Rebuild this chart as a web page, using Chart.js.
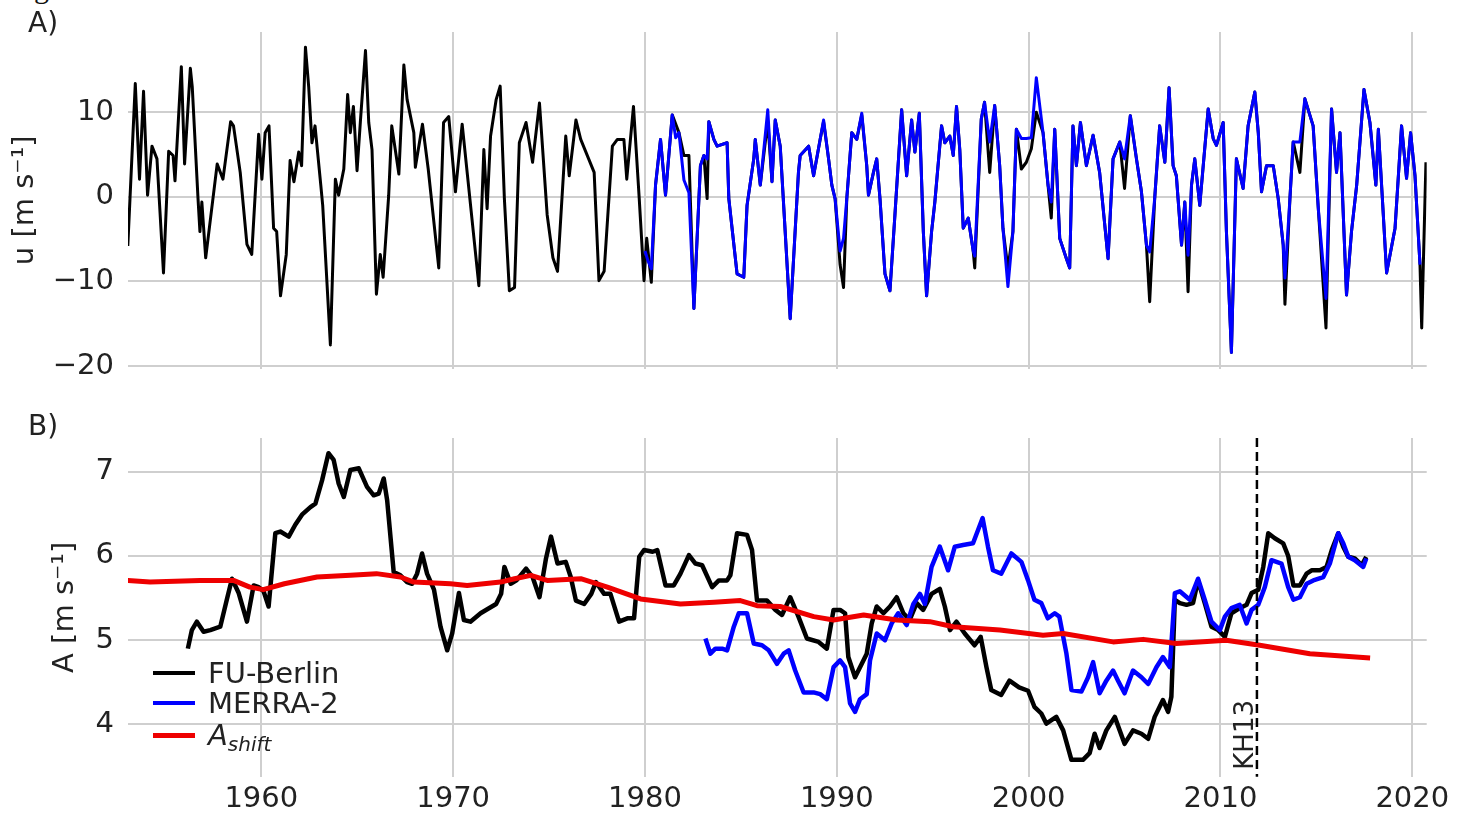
<!DOCTYPE html>
<html>
<head>
<meta charset="utf-8">
<script src="https://cdn.jsdelivr.net/npm/chart.js@4.4.1/dist/chart.umd.min.js"></script>
<style>
  body { margin: 0; background: #fff; }
  #wrap { position: relative; width: 1465px; height: 816px; overflow: hidden; background: #fff; font-family: 'DejaVu Sans', sans-serif; color: #222; }
  canvas { position: absolute; left: 0; }
  .lbl { position: absolute; font-size: 28px; line-height: 28px; white-space: nowrap; }
  .leg { position: absolute; font-size: 29px; line-height: 30px; white-space: nowrap; }
  .legline { position: absolute; left: 153px; width: 42px; }
  .cap { position: absolute; left: 14px; top: -27px; font-family: 'Liberation Serif', serif; font-size: 30px; line-height: 30px; color: #111; white-space: nowrap; }
</style>
</head>
<body>
<div id="wrap">
  <div class="cap">significance of the observed trends.</div>
  <canvas id="chartA" width="1465" height="400" style="top:0"></canvas>
  <canvas id="chartB" width="1465" height="416" style="top:400px"></canvas>
  <div class="lbl" style="left:28px; top:9px">A)</div>
  <div class="lbl" style="left:28px; top:412px">B)</div>
  <div id="legend"></div>
</div>
<script>
// x range and ticks (years)
var xMin = 1953.05, xMax = 2020.75;
var xTicks = [1960, 1970, 1980, 1990, 2000, 2010, 2020];
var yTicksA = [-20, -10, 0, 10];
var yTicksB = [4, 5, 6, 7];
var kh13Year = 2011.9;
var kh13Label = "KH13";

// panel A: zonal wind, FU-Berlin
var fuYearsA = [1953.04,1953.43,1953.65,1953.86,1954.07,1954.3,1954.56,1954.9,1955.17,1955.4,1955.5,1955.83,1956.0,1956.3,1956.4,1956.7,1956.8,1956.9,1957.1,1957.7,1958.0,1958.4,1958.55,1958.9,1959.25,1959.5,1959.86,1960.03,1960.2,1960.4,1960.64,1960.8,1961.0,1961.3,1961.5,1961.7,1961.95,1962.1,1962.3,1962.47,1962.64,1962.8,1963.1,1963.2,1963.6,1963.86,1964.03,1964.3,1964.5,1964.64,1964.8,1964.99,1965.17,1965.43,1965.6,1965.77,1966.0,1966.2,1966.35,1966.64,1966.8,1967.17,1967.43,1967.6,1967.95,1968.03,1968.4,1968.7,1969.25,1969.5,1969.77,1970.12,1970.47,1970.73,1971.34,1971.6,1971.77,1971.95,1972.24,1972.45,1972.67,1972.93,1973.2,1973.45,1973.8,1974.14,1974.5,1974.9,1975.2,1975.44,1975.87,1976.05,1976.4,1976.65,1977.35,1977.6,1977.87,1978.3,1978.56,1978.9,1979.05,1979.4,1979.7,1979.95,1980.09,1980.33,1980.55,1980.81,1981.07,1981.42,1981.77,1982.03,1982.29,1982.55,1982.89,1983.07,1983.24,1983.33,1983.59,1983.76,1984.28,1984.37,1984.8,1985.15,1985.32,1985.67,1985.75,1986.01,1986.4,1986.62,1986.79,1987.05,1987.14,1987.57,1988.0,1988.09,1988.53,1988.79,1989.13,1989.31,1989.57,1989.74,1989.91,1990.17,1990.35,1990.52,1990.78,1991.04,1991.3,1991.56,1991.65,1991.91,1992.08,1992.25,1992.51,1992.77,1993.03,1993.38,1993.64,1993.9,1994.07,1994.3,1994.51,1994.68,1994.94,1995.11,1995.46,1995.63,1995.89,1996.07,1996.24,1996.41,1996.59,1996.85,1997.11,1997.19,1997.53,1997.7,1997.97,1998.23,1998.49,1998.66,1998.92,1999.18,1999.36,1999.62,1999.88,2000.14,2000.4,2000.75,2001.01,2001.18,2001.36,2001.62,2001.97,2002.14,2002.31,2002.49,2002.7,2003.01,2003.36,2003.7,2004.14,2004.4,2004.75,2005.0,2005.3,2005.62,2005.88,2006.14,2006.31,2006.57,2006.83,2007.1,2007.32,2007.53,2007.7,2007.97,2008.14,2008.31,2008.49,2008.66,2008.92,2009.36,2009.62,2009.79,2010.14,2010.31,2010.57,2010.83,2011.18,2011.44,2011.79,2011.97,2012.14,2012.4,2012.75,2013.01,2013.27,2013.36,2013.62,2013.79,2014.14,2014.4,2014.83,2015.1,2015.5,2015.79,2016.05,2016.23,2016.57,2016.83,2017.1,2017.48,2017.79,2018.1,2018.23,2018.49,2018.66,2019.1,2019.44,2019.7,2019.91,2020.14,2020.4,2020.49,2020.71];
var fuValsA = [-5.8,13.4,2.1,12.5,0.2,6.0,4.5,-9.0,5.4,4.9,1.9,15.4,3.9,15.2,13.0,-0.2,-4.1,-0.6,-7.2,3.9,2.1,8.9,8.4,2.9,-5.6,-6.8,7.4,2.1,7.6,8.4,-3.7,-4.1,-11.7,-6.8,4.3,1.8,5.3,3.7,17.7,13.0,6.4,8.4,1.4,-1.0,-17.5,2.1,0.2,3.3,12.1,7.6,10.7,3.1,9.1,17.3,8.8,5.6,-11.5,-6.8,-9.5,0.2,8.4,2.7,15.6,11.5,7.6,3.5,8.6,3.3,-8.4,8.8,9.5,0.6,8.6,2.9,-10.5,5.6,-1.4,7.2,11.5,13.1,-0.2,-11.1,-10.7,6.4,8.8,4.1,11.1,-2.1,-7.2,-8.8,7.2,2.5,9.1,6.8,2.9,-9.9,-8.8,6.0,6.8,6.8,2.1,10.7,-0.2,-9.9,-4.9,-10.1,1.4,6.8,0.2,9.7,7.6,4.9,4.9,-13.2,3.7,4.9,-0.2,8.9,6.8,6.0,6.4,-0.2,-9.1,-9.5,-1.0,4.5,6.8,1.4,9.0,1.8,9.1,6.0,2.5,-14.4,2.9,4.9,6.0,2.5,6.8,8.9,4.5,1.4,-0.2,-8.0,-10.7,-0.2,7.6,6.8,9.7,3.7,0.2,2.9,4.5,-0.2,-9.1,-11.1,-2.1,10.3,2.5,9.1,5.3,9.9,-4.1,-11.7,-4.1,-0.6,8.4,6.4,7.2,4.9,10.7,5.6,-3.7,-2.5,-6.4,-8.4,9.2,11.2,2.9,10.8,3.7,-3.7,-8.5,-4.1,8.0,3.3,4.1,5.7,10.0,7.6,1.4,-2.5,8.0,-4.9,-7.3,-8.4,8.4,3.7,8.8,3.7,7.3,2.9,-7.3,4.5,6.5,1.0,9.6,4.5,0.6,-5.7,-12.4,-0.2,8.4,4.1,12.9,3.7,2.5,-5.7,-0.6,-11.2,1.4,4.5,-1.0,10.4,6.9,6.1,8.8,-4.1,-18.4,4.5,1.0,8.4,12.4,7.6,0.6,3.7,3.7,-0.2,-5.7,-12.7,-0.2,6.5,2.9,11.6,8.4,-1.4,-15.5,10.4,2.9,7.6,-11.6,-4.1,1.4,12.7,8.8,1.4,8.0,-2.2,-9.0,-3.7,8.4,2.2,7.6,2.5,-8.0,-15.5,4.1];

// panel A: zonal wind, MERRA-2
var m2YearsA = [1980.0,1980.15,1980.33,1980.55,1980.81,1981.07,1981.42,1981.6,1981.77,1982.03,1982.29,1982.55,1982.89,1983.07,1983.24,1983.33,1983.59,1983.76,1984.28,1984.37,1984.8,1985.15,1985.32,1985.67,1985.75,1986.01,1986.4,1986.62,1986.79,1987.05,1987.14,1987.57,1988.0,1988.09,1988.53,1988.79,1989.13,1989.31,1989.57,1989.74,1989.91,1990.17,1990.35,1990.52,1990.78,1991.04,1991.3,1991.56,1991.65,1991.91,1992.08,1992.25,1992.51,1992.77,1993.03,1993.38,1993.64,1993.9,1994.07,1994.3,1994.51,1994.68,1994.94,1995.11,1995.46,1995.63,1995.89,1996.07,1996.24,1996.41,1996.59,1996.85,1997.11,1997.19,1997.53,1997.7,1997.97,1998.23,1998.49,1998.66,1998.92,1999.18,1999.36,1999.62,1999.88,2000.14,2000.4,2000.75,2001.01,2001.18,2001.36,2001.62,2001.97,2002.14,2002.31,2002.49,2002.7,2003.01,2003.36,2003.7,2004.14,2004.4,2004.75,2005.0,2005.3,2005.62,2005.88,2006.14,2006.31,2006.57,2006.83,2007.1,2007.32,2007.53,2007.7,2007.97,2008.14,2008.31,2008.49,2008.66,2008.92,2009.36,2009.62,2009.79,2010.14,2010.31,2010.57,2010.83,2011.18,2011.44,2011.79,2011.97,2012.14,2012.4,2012.75,2013.01,2013.27,2013.36,2013.62,2013.79,2014.14,2014.4,2014.83,2015.1,2015.5,2015.79,2016.05,2016.23,2016.57,2016.83,2017.1,2017.48,2017.79,2018.1,2018.23,2018.49,2018.66,2019.1,2019.44,2019.7,2019.91,2020.14,2020.4];
var m2ValsA = [-6.4,-7.5,-8.5,1.4,6.8,0.2,9.7,7.0,7.6,2.0,0.5,-13.2,3.7,4.9,4.5,8.9,6.8,6.0,6.4,-0.2,-9.1,-9.5,-1.0,4.5,6.8,1.4,10.3,1.8,9.1,6.0,2.5,-14.4,2.9,4.9,6.0,2.5,6.8,9.1,4.5,1.4,-0.2,-6.4,-4.9,-0.2,7.6,6.8,9.9,3.7,0.2,2.9,4.5,-0.2,-9.1,-11.1,-2.1,10.3,2.5,9.1,5.3,9.9,-4.1,-11.7,-4.1,-0.6,8.4,6.4,7.2,4.9,10.7,5.6,-3.7,-2.5,-6.4,-7.0,9.2,11.2,6.5,10.8,3.7,-3.7,-10.6,-4.1,8.0,6.9,6.9,7.0,14.1,7.6,1.4,-0.6,8.0,-4.9,-7.3,-8.4,8.4,3.7,8.8,3.7,7.3,2.9,-7.3,4.5,6.5,4.5,9.6,4.5,0.6,-5.7,-6.5,-0.2,8.4,4.1,12.9,3.7,2.5,-5.7,-0.6,-6.9,1.4,4.5,-1.0,10.4,6.9,6.1,8.8,-4.1,-18.4,4.5,1.0,8.4,12.4,7.6,0.6,3.7,3.7,-0.2,-5.7,-9.6,-0.2,6.5,6.5,11.6,8.4,-1.4,-12.0,10.4,2.9,7.6,-11.6,-4.1,1.4,12.7,8.8,1.4,8.0,-2.2,-9.0,-3.7,8.4,2.2,7.6,2.5,-8.0];

// panel B: amplitude, FU-Berlin
var fuYearsB = [1956.17,1956.38,1956.64,1956.99,1957.34,1957.86,1958.2,1958.47,1958.82,1959.25,1959.6,1959.86,1960.12,1960.38,1960.73,1960.99,1961.43,1961.77,1962.12,1962.56,1962.82,1963.17,1963.5,1963.77,1964.03,1964.3,1964.64,1965.08,1965.51,1965.86,1966.12,1966.38,1966.56,1966.9,1967.25,1967.6,1967.86,1968.12,1968.38,1968.64,1969.0,1969.34,1969.69,1969.95,1970.3,1970.56,1970.9,1971.43,1971.8,1972.24,1972.5,1972.67,1973.0,1973.3,1973.8,1974.14,1974.5,1974.84,1975.1,1975.44,1975.87,1976.13,1976.4,1976.83,1977.2,1977.44,1977.87,1978.2,1978.65,1979.08,1979.43,1979.7,1979.95,1980.4,1980.64,1981.07,1981.5,1981.85,1982.29,1982.63,1982.98,1983.5,1983.85,1984.28,1984.45,1984.8,1985.32,1985.58,1985.84,1986.36,1986.8,1987.14,1987.57,1988.0,1988.44,1989.05,1989.48,1989.83,1990.17,1990.43,1990.6,1990.95,1991.3,1991.56,1991.82,1992.08,1992.43,1992.77,1993.12,1993.47,1993.8,1994.16,1994.5,1994.94,1995.37,1995.63,1995.9,1996.24,1996.67,1997.18,1997.5,1997.8,1998.05,1998.57,1999.0,1999.5,1999.97,2000.3,2000.66,2000.92,2001.44,2001.8,2002.23,2002.83,2003.18,2003.44,2003.7,2004.05,2004.49,2005.0,2005.44,2005.88,2006.23,2006.57,2007.0,2007.27,2007.44,2007.62,2007.88,2008.23,2008.57,2008.83,2009.18,2009.53,2009.88,2010.23,2010.57,2011.0,2011.36,2011.62,2011.97,2012.23,2012.49,2012.83,2013.27,2013.53,2013.8,2014.14,2014.49,2014.75,2015.18,2015.53,2015.8,2016.14,2016.4,2016.66,2017.0,2017.36,2017.6];
var fuValsB = [4.90,5.12,5.22,5.10,5.12,5.16,5.48,5.73,5.56,5.22,5.65,5.63,5.58,5.40,6.27,6.29,6.23,6.37,6.49,6.58,6.62,6.90,7.22,7.14,6.86,6.70,7.02,7.04,6.82,6.72,6.74,6.92,6.66,5.81,5.77,5.69,5.67,5.79,6.03,5.79,5.60,5.16,4.88,5.08,5.56,5.24,5.22,5.32,5.37,5.43,5.55,5.87,5.67,5.71,5.85,5.75,5.51,5.97,6.23,5.91,5.93,5.75,5.47,5.43,5.55,5.69,5.55,5.55,5.22,5.26,5.26,5.99,6.07,6.05,6.07,5.65,5.65,5.79,6.01,5.91,5.89,5.63,5.71,5.71,5.77,6.27,6.25,6.07,5.47,5.47,5.36,5.30,5.51,5.28,5.02,4.98,4.90,5.36,5.36,5.32,4.80,4.56,4.72,4.84,5.20,5.40,5.32,5.40,5.51,5.32,5.24,5.44,5.36,5.55,5.61,5.40,5.12,5.22,5.08,4.94,5.04,4.68,4.41,4.35,4.52,4.44,4.40,4.21,4.13,4.01,4.09,3.93,3.58,3.58,3.66,3.89,3.72,3.93,4.09,3.77,3.93,3.89,3.83,4.09,4.29,4.15,4.33,5.48,5.44,5.42,5.44,5.71,5.44,5.16,5.12,5.04,5.32,5.38,5.42,5.56,5.60,5.87,6.27,6.21,6.15,6.00,5.65,5.65,5.79,5.83,5.83,5.87,6.07,6.27,6.11,5.99,5.97,5.89,5.99];

// panel B: amplitude, MERRA-2
var m2YearsB = [1983.15,1983.41,1983.67,1984.02,1984.28,1984.63,1984.89,1985.32,1985.67,1986.1,1986.45,1986.88,1987.23,1987.49,1987.83,1988.27,1988.79,1989.13,1989.48,1989.83,1990.17,1990.43,1990.69,1990.95,1991.21,1991.56,1991.73,1992.08,1992.51,1992.86,1993.2,1993.64,1993.99,1994.33,1994.59,1994.94,1995.37,1995.8,1996.15,1996.58,1997.1,1997.6,1997.88,1998.14,1998.57,1999.1,1999.62,1999.97,2000.3,2000.66,2001.0,2001.36,2001.6,2001.97,2002.23,2002.75,2003.1,2003.36,2003.7,2004.05,2004.4,2004.66,2005.0,2005.44,2005.88,2006.23,2006.66,2007.0,2007.36,2007.62,2007.88,2008.4,2008.83,2009.18,2009.53,2009.97,2010.23,2010.57,2011.0,2011.36,2011.62,2011.97,2012.31,2012.66,2013.18,2013.53,2013.8,2014.14,2014.49,2014.84,2015.36,2015.7,2016.14,2016.4,2016.66,2017.0,2017.44,2017.6];
var m2ValsB = [5.02,4.84,4.90,4.90,4.88,5.16,5.32,5.32,4.96,4.94,4.88,4.72,4.84,4.88,4.64,4.38,4.38,4.36,4.30,4.68,4.76,4.68,4.25,4.15,4.30,4.36,4.76,5.08,5.00,5.20,5.32,5.18,5.43,5.55,5.43,5.87,6.11,5.83,6.11,6.13,6.15,6.45,6.11,5.83,5.79,6.03,5.93,5.71,5.48,5.44,5.26,5.32,5.28,4.84,4.41,4.39,4.56,4.74,4.37,4.52,4.64,4.52,4.37,4.64,4.56,4.48,4.68,4.80,4.68,5.56,5.58,5.48,5.73,5.48,5.22,5.12,5.28,5.38,5.42,5.20,5.36,5.42,5.63,5.95,5.91,5.63,5.48,5.51,5.67,5.71,5.75,5.91,6.27,6.15,5.99,5.95,5.87,5.97];

// panel B: A_shift
var shiftYears = [1953.04,1954.2,1956.8,1958.55,1959.4,1960.1,1961.2,1962.9,1964.64,1966.0,1967.25,1967.95,1969.86,1970.73,1972.47,1973.2,1974.05,1974.9,1976.65,1978.04,1979.77,1981.85,1983.6,1984.97,1985.84,1987.05,1988.8,1989.83,1991.4,1993.12,1994.85,1996.07,1998.5,2000.75,2001.8,2004.4,2005.97,2007.7,2010.3,2012.05,2014.66,2017.8];
var shiftVals = [5.71,5.69,5.71,5.71,5.63,5.60,5.67,5.75,5.77,5.79,5.75,5.69,5.67,5.65,5.69,5.73,5.77,5.71,5.73,5.63,5.49,5.43,5.45,5.47,5.41,5.40,5.28,5.24,5.30,5.24,5.22,5.16,5.12,5.06,5.08,4.98,5.01,4.96,5.00,4.94,4.84,4.79];

var seriesNames = ["FU-Berlin", "MERRA-2", "A"];
var colFU = "#000000", colM2 = "#0000ff", colShift = "#ee0000";
var gridColor = "#cfcfcf";
var textColor = "#222222";

Chart.defaults.font.family = "'DejaVu Sans', sans-serif";
Chart.defaults.font.size = 29;
Chart.defaults.color = textColor;

function pts(xs, ys) {
	return xs.map(function(x, i) { return {x: x, y: ys[i]}; });
}
function minus(v) {
	return String(v).replace("-", "\u2212");
}

function lineSet(label, xs, ys, color, width, order) {
	return {
		label : label,
		data : pts(xs, ys),
		borderColor : color,
		backgroundColor : color,
		borderWidth : width,
		pointRadius : 0,
		tension : 0,
		fill : false,
		borderJoinStyle : "round",
		order : order
	};
}

function xAxis(showLabels, h) {
	return {
		type : "linear",
		min : xMin,
		max : xMax,
		afterBuildTicks : function(s) { s.ticks = xTicks.map(function(v) { return {value: v}; }); },
		afterFit : function(s) { s.height = h; },
		grid : { color : gridColor, lineWidth : 2, drawTicks : false },
		border : { display : false },
		ticks : { display : showLabels, padding : 5, maxRotation : 0, callback : function(v) { return String(v); } }
	};
}

function yAxis(min, max, ticks, title, titlePad) {
	return {
		min : min,
		max : max,
		afterBuildTicks : function(s) { s.ticks = ticks.map(function(v) { return {value: v}; }); },
		afterFit : function(s) { s.width = 128; },
		grid : { color : gridColor, lineWidth : 2, drawTicks : false },
		border : { display : false },
		ticks : { padding : 14, callback : function(v) { return minus(v); } },
		title : { display : true, text : title, padding : {top : titlePad, bottom : 0}, color : textColor }
	};
}

var kh13Plugin = {
	id : "kh13",
	afterDatasetsDraw : function(chart) {
		var ctx = chart.ctx, area = chart.chartArea;
		var x = chart.scales.x.getPixelForValue(kh13Year);
		ctx.save();
		ctx.strokeStyle = "#000";
		ctx.lineWidth = 2.5;
		ctx.setLineDash([9, 5]);
		ctx.beginPath();
		ctx.moveTo(x, area.top);
		ctx.lineTo(x, area.bottom);
		ctx.stroke();
		ctx.setLineDash([]);
		ctx.translate(x - 4, area.bottom - 7);
		ctx.rotate(-Math.PI / 2);
		ctx.font = "26px 'DejaVu Sans'";
		ctx.fillStyle = textColor;
		ctx.textAlign = "left";
		ctx.textBaseline = "alphabetic";
		ctx.fillText(kh13Label, 0, 0);
		ctx.restore();
	}
};

var common = {
	responsive : false,
	devicePixelRatio : 1,
	animation : false,
	plugins : { legend : { display : false }, tooltip : { enabled : false } }
};

var chartA = new Chart(document.getElementById("chartA"), {
	type : "line",
	data : {
		datasets : [
			lineSet(seriesNames[0], fuYearsA, fuValsA, colFU, 3, 1),
			lineSet(seriesNames[1], m2YearsA, m2ValsA, colM2, 3, 0)
		]
	},
	options : Object.assign({}, common, {
		layout : { padding : { top : 32, right : 38.3, left : 0, bottom : 0 } },
		scales : {
			x : xAxis(false, 30),
			y : yAxis(-20.3, 19.5, yTicksA, "u [m s\u207B\u00B9]", 8)
		}
	})
});

var chartB = new Chart(document.getElementById("chartB"), {
	type : "line",
	data : {
		datasets : [
			lineSet(seriesNames[0], fuYearsB, fuValsB, colFU, 4.5, 2),
			lineSet(seriesNames[1], m2YearsB, m2ValsB, colM2, 4.5, 1),
			lineSet("A_shift", shiftYears, shiftVals, colShift, 5, 0)
		]
	},
	options : Object.assign({}, common, {
		layout : { padding : { top : 38, right : 38.3, left : 0, bottom : 0 } },
		scales : {
			x : xAxis(true, 39.3),
			y : yAxis(3.38, 7.4, yTicksB, "A [m s\u207B\u00B9]", 48)
		}
	}),
	plugins : [kh13Plugin]
});

// legend (html, so the subscript can be italic)
var legendItems = [
	{ html : seriesNames[0], color : colFU, y : 673, w : 4.5 },
	{ html : seriesNames[1], color : colM2, y : 703, w : 4.5 },
	{ html : "<i>" + seriesNames[2] + "<sub style='font-size:20px;vertical-align:-6px'>shift</sub></i>", color : colShift, y : 735, w : 5 }
];
var leg = document.getElementById("legend");
legendItems.forEach(function(it) {
	var line = document.createElement("div");
	line.className = "legline";
	line.style.top = (it.y - it.w / 2) + "px";
	line.style.height = it.w + "px";
	line.style.background = it.color;
	leg.appendChild(line);
	var t = document.createElement("div");
	t.className = "leg";
	t.style.left = "208px";
	t.style.top = (it.y - 15.5) + "px";
	t.innerHTML = it.html;
	leg.appendChild(t);
});
</script>
</body>
</html>
